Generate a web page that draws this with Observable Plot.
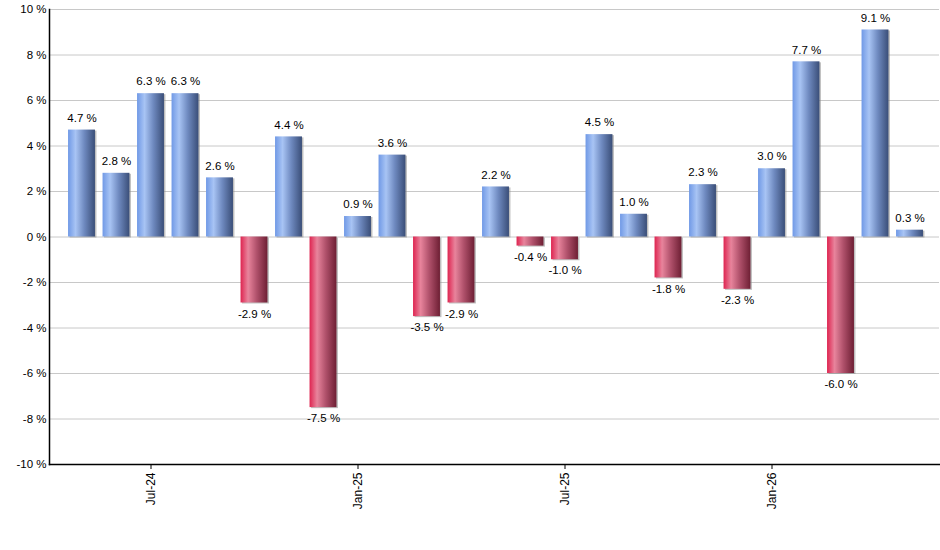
<!DOCTYPE html>
<html>
<head>
<meta charset="utf-8">
<script src="https://cdn.jsdelivr.net/npm/d3@7"></script>
<script src="https://cdn.jsdelivr.net/npm/@observablehq/plot@0.6"></script>
<style>
  body { margin: 0; background: #fff; }
  #chart svg { display: block; }
</style>
</head>
<body>
<div id="chart"></div>
<script>
// Monthly returns, May 2024 – May 2026
const months = [
  "May-24", "Jun-24", "Jul-24", "Aug-24", "Sep-24", "Oct-24", "Nov-24", "Dec-24",
  "Jan-25", "Feb-25", "Mar-25", "Apr-25", "May-25", "Jun-25", "Jul-25", "Aug-25",
  "Sep-25", "Oct-25", "Nov-25", "Dec-25", "Jan-26", "Feb-26", "Mar-26", "Apr-26", "May-26"
];
const returns = [
  4.7, 2.8, 6.3, 6.3, 2.6, -2.9, 4.4, -7.5,
  0.9, 3.6, -3.5, -2.9, 2.2, -0.4, -1.0, 4.5,
  1.0, -1.8, 2.3, -2.3, 3.0, 7.7, -6.0, 9.1, 0.3
];
const yTicks = [-10, -8, -6, -4, -2, 0, 2, 4, 6, 8, 10];
const xTickLabels = ["Jul-24", "Jan-25", "Jul-25", "Jan-26"];

const data = months.map((month, i) => ({month, value: returns[i]}));
const gains = data.filter(d => d.value >= 0);
const losses = data.filter(d => d.value < 0);
const fmt = d => d.value.toFixed(1) + " %";

const font = "'Liberation Sans', Arial, sans-serif";

const chart = Plot.plot({
  width: 940,
  height: 550,
  marginTop: 9,
  marginBottom: 86,
  marginLeft: 49,
  marginRight: 1,
  style: {fontFamily: font, fontSize: "11px", color: "#000", background: "#fff"},
  x: {domain: months, range: [64.25, 926.75], paddingInner: 0.22, paddingOuter: 0.11, round: false},
  y: {domain: [-10, 10]},
  marks: [
    Plot.ruleY(yTicks, {stroke: "#c8c8c8", strokeWidth: 1}),
    // soft drop shadow on the right edge of each bar
    Plot.barY(data, {x: "month", y: "value", fill: "#8a8a8a", fillOpacity: 0.55, dx: 1.5, dy: 1}),
    Plot.barY(gains, {x: "month", y: "value", fill: "url(#barBlue)"}),
    Plot.barY(losses, {x: "month", y: "value", fill: "url(#barRed)"}),
    Plot.text(gains, {x: "month", y: "value", text: fmt, dy: -12, fill: "#000", fontSize: 11.5}),
    Plot.text(losses, {x: "month", y: "value", text: fmt, dy: 11, fill: "#000", fontSize: 11.5}),
    Plot.axisY({ticks: yTicks, tickFormat: d => d + " %", tickSize: 0, tickPadding: 3, fontSize: 11.5, label: null}),
    Plot.axisX({ticks: xTickLabels, tickRotate: -90, tickSize: 5, tickPadding: 3, fontSize: 12, label: null}),
    Plot.frame({anchor: "left", stroke: "#000", strokeWidth: 1.5}),
    Plot.frame({anchor: "bottom", stroke: "#000", strokeWidth: 1.5})
  ]
});

// horizontal cylinder-style gradients for the bars
const defs = d3.select(chart).insert("defs", ":first-child");
function gradient(id, stops) {
  const g = defs.append("linearGradient").attr("id", id)
    .attr("x1", 0).attr("x2", 1).attr("y1", 0).attr("y2", 0);
  stops.forEach(([o, c]) => g.append("stop").attr("offset", o).attr("stop-color", c));
}
gradient("barBlue", [[0, "#7099e6"], [0.28, "#a8c4f4"], [0.6, "#6f8ac0"], [1, "#3a4e78"]]);
gradient("barRed", [[0, "#de2450"], [0.28, "#e8849c"], [0.6, "#b0516b"], [1, "#6e1f34"]]);

document.getElementById("chart").appendChild(chart);
</script>
</body>
</html>
